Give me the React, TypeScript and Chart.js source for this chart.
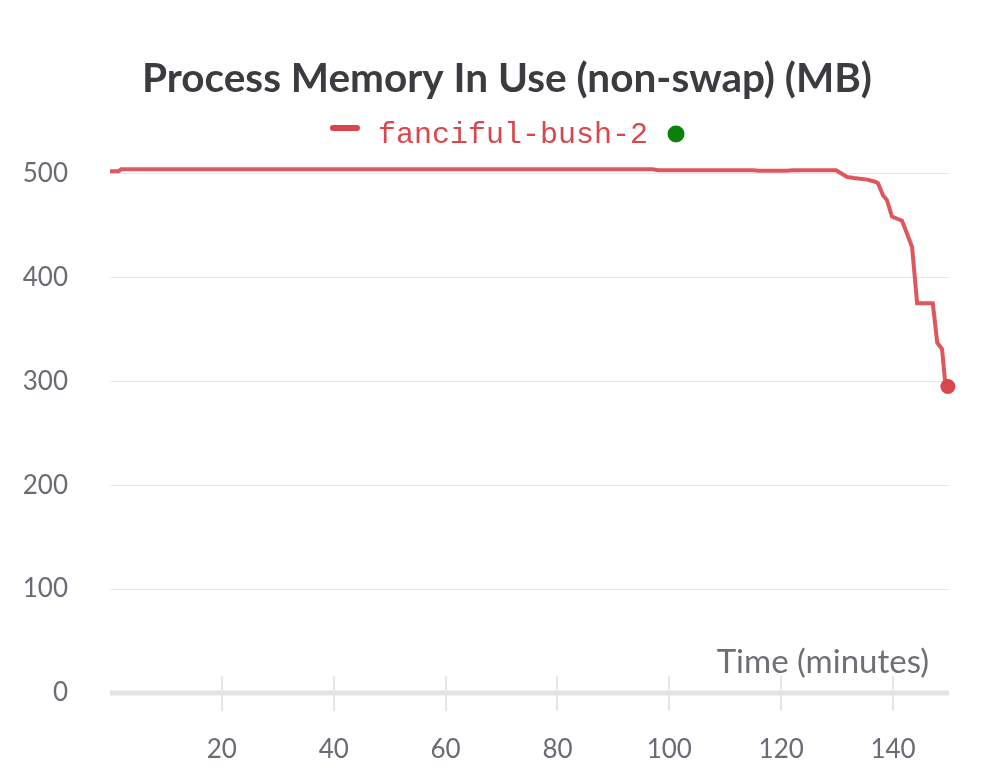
import React, { useEffect, useRef } from "react";
import { Chart, registerables } from "chart.js";

Chart.register(...registerables);

const TITLE = "Process Memory In Use (non-swap) (MB)";
const SERIES_NAME = "fanciful-bush-2";
const X_LABEL = "Time (minutes)";

const timeMinutes = [
  0, 1.5, 2, 40, 97, 98, 115, 116, 121, 122, 129.8, 131.8, 133, 135.4, 136.8, 137.3,
  138.2, 138.9, 139.8, 141.6, 142.5, 143.4, 144.3, 147.1, 147.9, 148.75, 149.3, 149.8,
];
const memoryMB = [
  502, 502, 504, 504, 504, 503, 503, 502.5, 502.5, 503, 503, 496.5, 495.5, 494, 492, 490.5,
  479, 474.5, 458.5, 454.5, 442, 429, 375, 375, 337, 331, 300, 295,
];

const yTicks = [0, 100, 200, 300, 400, 500];
const xTicks = [20, 40, 60, 80, 100, 120, 140];

const RED = "#d9464b";
const LINE_RED = "rgba(217, 64, 70, 0.88)";
const GREEN = "#0a820a";
const TICK_COLOR = "#6b6b76";

const overlayPlugin = {
  id: "overlay",
  beforeDatasetsDraw(chart: any) {
    const { ctx, chartArea, scales } = chart;
    const x = scales.x;
    ctx.save();
    ctx.strokeStyle = "#e3e3e3";
    ctx.lineWidth = 5;
    ctx.beginPath();
    ctx.moveTo(chartArea.left, chartArea.bottom);
    ctx.lineTo(chartArea.right, chartArea.bottom);
    ctx.stroke();
    ctx.strokeStyle = "#e6e6e6";
    ctx.lineWidth = 2;
    for (const t of xTicks) {
      const px = Math.round(x.getPixelForValue(t));
      ctx.beginPath();
      ctx.moveTo(px, chartArea.bottom - 17);
      ctx.lineTo(px, chartArea.bottom + 18);
      ctx.stroke();
    }
    ctx.fillStyle = "#6e6e78";
    ctx.font = "33px Lato";
    ctx.textAlign = "right";
    ctx.textBaseline = "alphabetic";
    ctx.fillText(X_LABEL, chartArea.right - 20, chartArea.bottom - 20);
    ctx.restore();
  },
  afterDraw(chart: any) {
    const { ctx } = chart;
    ctx.save();
    ctx.font = "30px 'Liberation Mono'";
    const w = ctx.measureText(SERIES_NAME).width;
    const cx = chart.width / 2 + 9;
    const left = cx - w / 2;
    const right = cx + w / 2;
    ctx.fillStyle = RED;
    ctx.textAlign = "left";
    ctx.textBaseline = "alphabetic";
    ctx.fillText(SERIES_NAME, left, 143);
    ctx.strokeStyle = RED;
    ctx.lineWidth = 6;
    ctx.lineCap = "round";
    ctx.beginPath();
    ctx.moveTo(left - 45, 128);
    ctx.lineTo(left - 21, 128);
    ctx.stroke();
    ctx.fillStyle = GREEN;
    ctx.beginPath();
    ctx.arc(right + 28, 134, 8.5, 0, Math.PI * 2);
    ctx.fill();
    ctx.restore();
  },
};

export default function App() {
  const canvasRef = useRef<HTMLCanvasElement | null>(null);

  useEffect(() => {
    if (!canvasRef.current) return;
    const data = timeMinutes.map((t, i) => ({ x: t, y: memoryMB[i] }));
    const last = data.length - 1;
    const chart = new Chart(canvasRef.current, {
      type: "line",
      data: {
        datasets: [
          {
            label: SERIES_NAME,
            data,
            borderColor: LINE_RED,
            backgroundColor: RED,
            borderWidth: 4,
            tension: 0,
            clip: false,
            pointRadius: (c: any) => (c.dataIndex === last ? 7.5 : 0),
            pointBackgroundColor: RED,
            pointBorderWidth: 0,
            pointHoverRadius: 0,
          },
        ],
      },
      options: {
        animation: false,
        responsive: false,
        maintainAspectRatio: false,
        layout: { padding: { left: 6, right: 0, top: 0, bottom: 0 } },
        plugins: {
          legend: { display: false },
          tooltip: { enabled: false },
          title: {
            display: true,
            text: TITLE,
            color: "#3a3c40",
            font: { family: "Lato", size: 40.5, weight: "bold", lineHeight: 1.2 },
            padding: { top: 55, bottom: 59.4 },
          },
        },
        scales: {
          x: {
            type: "linear",
            min: 0,
            max: 150,
            afterBuildTicks: (s: any) => {
              s.ticks = xTicks.map((v) => ({ value: v }));
            },
            afterFit: (s: any) => {
              s.height = 90;
            },
            grid: { display: false, drawTicks: false },
            border: { display: false },
            ticks: {
              color: TICK_COLOR,
              font: { family: "Lato", size: 26 },
              padding: 41,
              maxRotation: 0,
              autoSkip: false,
            },
          },
          y: {
            type: "linear",
            min: 0,
            max: 510,
            afterBuildTicks: (s: any) => {
              s.ticks = yTicks.map((v) => ({ value: v }));
            },
            afterFit: (s: any) => {
              s.width = 104;
            },
            grid: { color: "#e8e8e8", lineWidth: 1, drawTicks: false },
            border: { display: false },
            ticks: {
              color: TICK_COLOR,
              font: { family: "Lato", size: 26 },
              padding: 42,
            },
          },
          yRightSpace: {
            type: "linear",
            position: "right",
            display: true,
            min: 0,
            max: 510,
            afterFit: (s: any) => {
              s.width = 59;
            },
            grid: { display: false, drawTicks: false },
            border: { display: false },
            ticks: { display: false },
          },
        },
      },
      plugins: [overlayPlugin],
    });
    return () => chart.destroy();
  }, []);

  return (
    <div style={{ position: "absolute", left: 0, top: 0, width: 1008, height: 783, background: "#fff" }}>
      <canvas ref={canvasRef} width={1008} height={783} style={{ display: "block" }} />
    </div>
  );
}
